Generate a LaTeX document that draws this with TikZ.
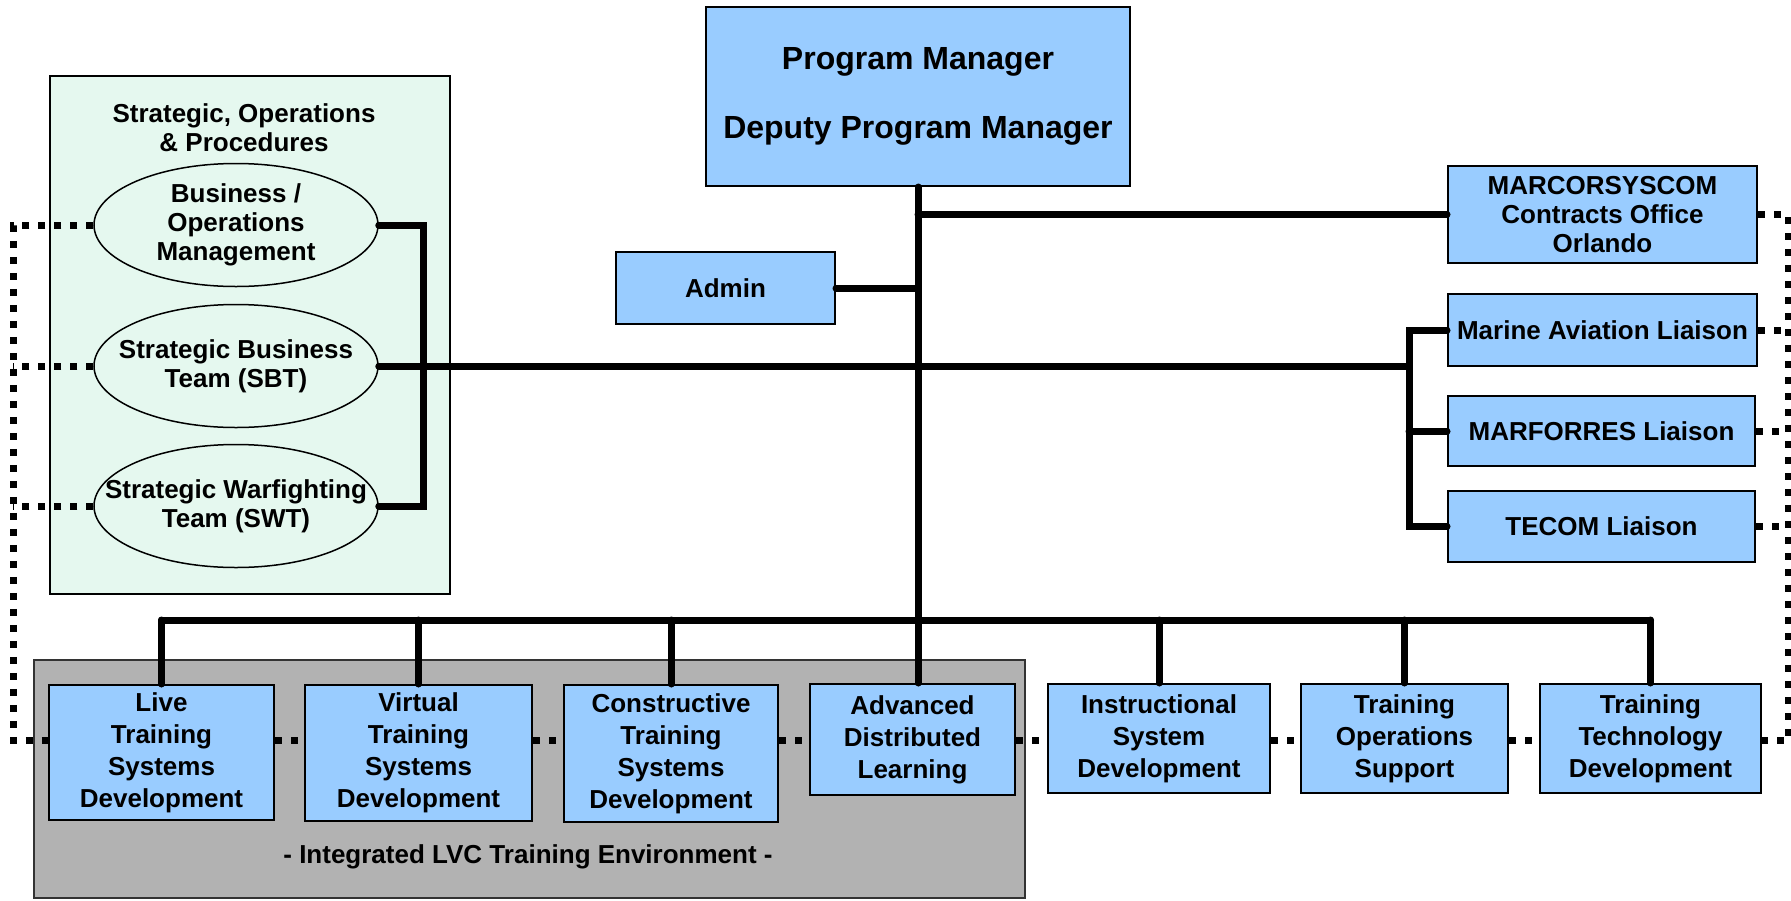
\documentclass[tikz,border=0pt]{standalone}
\usepackage{fontspec}
\setmainfont{Liberation Sans}
\usetikzlibrary{positioning,shapes.geometric}
\definecolor{boxblue}{RGB}{153,204,255}
\definecolor{mint}{RGB}{229,248,239}
\definecolor{lvcgray}{RGB}{178,178,178}
\tikzset {
    style A/.style={
        fill=boxblue,
        draw=black,
        line width=2pt,
        rectangle, % Set the shape as a rectangle
        inner sep=2pt,
        align=center,
        font=\fontsize{26}{32}\selectfont\bfseries,
    },
    style B/.style={
        fill=mint,
        draw=black,
        line width=1.5pt,
        ellipse, % Set the shape as an ellipse
        inner xsep=-40pt,
        inner ysep=-5pt,
        minimum width=284,
        minimum height=123,
        align=center,
        font=\fontsize{26}{29}\selectfont\bfseries,
    },
    style C/.style={
        fill=mint,
        draw=black,
        line width=2pt,
        rectangle,
    },
    style D/.style={
        fill=lvcgray,
        draw=black!80,
        line width=2pt,
        rectangle,
    },
    style E/.style={
        draw=black,
        line width=7pt,
        line cap=round,
    },
    style F/.style={
        draw=black,
        line width=7pt,
        dash pattern=on 7pt off 9pt,
    },
}
\begin{document}
\begin{tikzpicture}
[x=1pt, y=-1pt]
\useasboundingbox (0,0) rectangle (1791,900);

% groups
\node[style C, minimum width=400, minimum height=518] at (250,335) (sop) {};
\node[style D, minimum width=991, minimum height=238] at (529.5,779) (lvc) {};
\node[align=center, font=\fontsize{26}{29}\selectfont\bfseries] at (244,128) (sopTitle) {Strategic, Operations\\\& Procedures};
\node[font=\fontsize{26}{29}\selectfont\bfseries] at (528,857) (lvcLabel) {- Integrated LVC Training Environment -};

% top
\node[style A, minimum width=424, minimum height=179, font=\fontsize{32}{36}\selectfont\bfseries] at (918,96.5) (pm) {Program Manager\\[33pt]Deputy Program Manager};
\node[style A, minimum width=219, minimum height=72] at (725.5,288) (admin) {Admin};
\node[style A, minimum width=309, minimum height=97, font=\fontsize{26}{29}\selectfont\bfseries] at (1602.5,214.5) (marcor) {MARCORSYSCOM\\Contracts Office\\Orlando};
\node[style A, minimum width=309, minimum height=72] at (1602.5,330) (aviation) {Marine Aviation Liaison};
\node[style A, minimum width=307, minimum height=70] at (1601.5,431) (marforres) {MARFORRES Liaison};
\node[style A, minimum width=307, minimum height=71] at (1601.5,526.5) (tecom) {TECOM Liaison};

% strategic teams
\node[style B] at (236,225) (bom) {Business /\\Operations\\Management};
\node[style B] at (236,366) (sbt) {Strategic Business\\Team (SBT)};
\node[style B] at (236,506) (swt) {Strategic Warfighting\\Team (SWT)};

% divisions
\node[style A, minimum width=225, minimum height=135] at (161.5,752.5) (live) {Live\\Training\\Systems\\Development};
\node[style A, minimum width=227, minimum height=136] at (418.5,753) (virtual) {Virtual\\Training\\Systems\\Development};
\node[style A, minimum width=214, minimum height=137] at (671,753.5) (constructive) {Constructive\\Training\\Systems\\Development};
\node[style A, minimum width=205, minimum height=111] at (912.5,739.5) (adl) {Advanced\\Distributed\\Learning};
\node[style A, minimum width=222, minimum height=109] at (1159,738.5) (isd) {Instructional\\System\\Development};
\node[style A, minimum width=207, minimum height=109] at (1404.5,738.5) (tos) {Training\\Operations\\Support};
\node[style A, minimum width=221, minimum height=109] at (1650.5,738.5) (ttd) {Training\\Technology\\Development};

\coordinate (bus) at (918,620);
\coordinate (sopBar) at (423,366);
\coordinate (liaisonBar) at (1409,364);
\coordinate (leftDots) at (13,740);
\coordinate (rightDots) at (1788,740);

% solid lines
\draw[style E] (pm.south) -- (pm.south |- adl.north);
\draw[style E] (admin.east) -- (admin.east -| pm.south);
\draw[style E] (marcor.west) -- (marcor.west -| pm.south);
\draw[style E] (live.north |- bus) -- (ttd.north |- bus);
\foreach \n in {live,virtual,constructive,isd,tos,ttd}
    \draw[style E] (\n.north) -- (\n.north |- bus);
\draw[style E] (bom.east) -- (bom.east -| sopBar) -- (swt.east -| sopBar) -- (swt.east);
\draw[style E] (sbt.east) -- (sbt.east -| liaisonBar);
\draw[style E] (aviation.west) -- (aviation.west -| liaisonBar) -- (tecom.west -| liaisonBar) -- (tecom.west);
\draw[style E] (marforres.west) -- (marforres.west -| liaisonBar);

% dotted lines
\draw[style F] (bom.west) -- (bom.west -| leftDots) -- (leftDots) -- (live.west |- leftDots);
\draw[style F] (sbt.west) -- (sbt.west -| leftDots);
\draw[style F] (swt.west) -- (swt.west -| leftDots);
\foreach \a/\b in {live/virtual,virtual/constructive,constructive/adl,adl/isd,isd/tos,tos/ttd}
    \draw[style F] (\a.east |- leftDots) -- (\b.west |- leftDots);
\draw[style F] (marcor.east) -- (marcor.east -| rightDots) -- (rightDots) -- (ttd.east |- rightDots);
\foreach \n in {aviation,marforres,tecom}
    \draw[style F] (\n.east) -- (\n.east -| rightDots);
\end{tikzpicture}
\end{document}
